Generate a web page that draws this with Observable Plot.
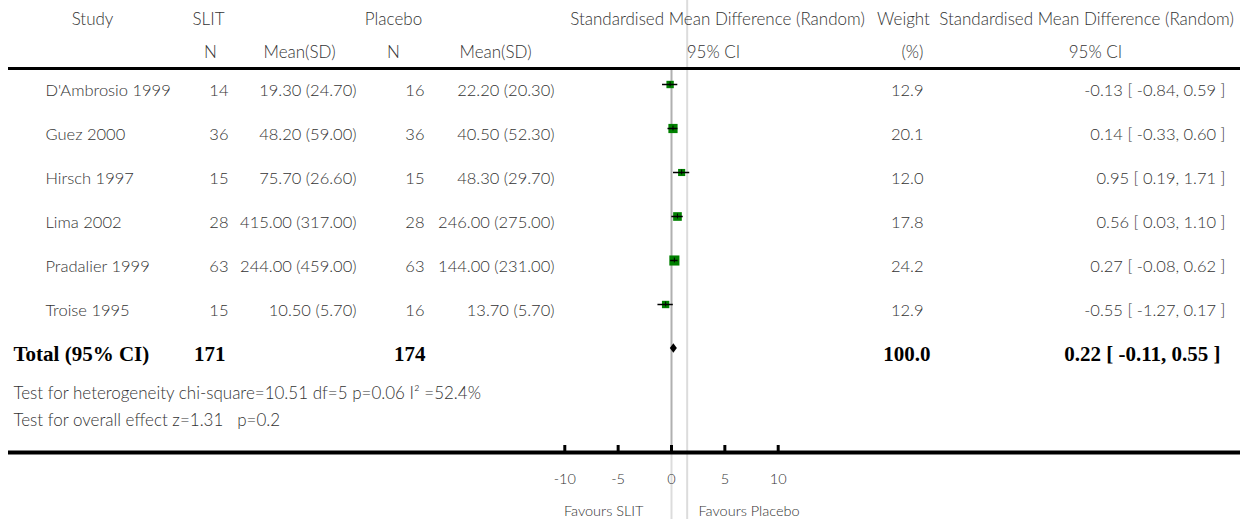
<!DOCTYPE html>
<html><head><meta charset="utf-8">
<script src="https://cdn.jsdelivr.net/npm/d3@7"></script>
<script src="https://cdn.jsdelivr.net/npm/@observablehq/plot@0.6"></script>
<style>body{margin:0;background:#fff}</style>
</head><body><div id="chart"></div>
<script>
// ---- data ----
const studies = ["D'Ambrosio 1999","Guez 2000","Hirsch 1997","Lima 2002","Pradalier 1999","Troise 1995"];
const slitN = [14,36,15,28,63,15];
const slitMeanSD = ["19.30 (24.70)","48.20 (59.00)","75.70 (26.60)","415.00 (317.00)","244.00 (459.00)","10.50 (5.70)"];
const placeboN = [16,36,15,28,63,16];
const placeboMeanSD = ["22.20 (20.30)","40.50 (52.30)","48.30 (29.70)","246.00 (275.00)","144.00 (231.00)","13.70 (5.70)"];
const smd = [-0.13,0.14,0.95,0.56,0.27,-0.55];
const ciLow = [-0.84,-0.33,0.19,0.03,-0.08,-1.27];
const ciHigh = [0.59,0.60,1.71,1.10,0.62,0.17];
const weights = [12.9,20.1,12.0,17.8,24.2,12.9];
const totalLabel = "Total (95% CI)";
const totalSlitN = 171, totalPlaceboN = 174, totalWeight = 100.0;
const totalSmd = 0.22, totalLow = -0.11, totalHigh = 0.55;
const heterogeneityText = "Test for heterogeneity chi-square=10.51 df=5 p=0.06 I\u00B2 =52.4%";
const overallText = "Test for overall effect z=1.31   p=0.2";
const headerLine1 = ["Study","SLIT","Placebo","Standardised Mean Difference (Random)","Weight","Standardised Mean Difference (Random)"];
const headerLine2 = ["N","Mean(SD)","N","Mean(SD)","95% CI","(%)","95% CI"];
const xTicks = [-10,-5,0,5,10];
const favoursLeft = "Favours SLIT", favoursRight = "Favours Placebo";
const dividerValue = 1.47;

// ---- layout ----
const W = 1252, H = 519, ML = 8, MR = 12, MB = 67;
const header1X = [92,208,393,717,903,1086];
const header2X = [210,299,393,495,713,912,1095];
const headerRuleRow = -0.3636, axisRow = 8.3636, totalRow = 6;
const F = "Lato, 'Noto Sans', sans-serif";
const SERIF = "'Liberation Serif', 'DejaVu Serif', serif";
const TXT = "#333";
const FS = 17, RFS = 16.5;

const rows = studies.map((s,i)=>({row:i, study:s, slitN:slitN[i], slitMeanSD:slitMeanSD[i],
  placeboN:placeboN[i], placeboMeanSD:placeboMeanSD[i], smd:smd[i], lo:ciLow[i], hi:ciHigh[i], w:weights[i],
  ci: `${smd[i].toFixed(2)} [ ${ciLow[i].toFixed(2)}, ${ciHigh[i].toFixed(2)} ]`}));
const diamond = [
  {y: totalRow-0.11, x1: totalSmd, x2: totalSmd},
  {y: totalRow, x1: totalLow, x2: totalHigh},
  {y: totalRow+0.11, x1: totalSmd, x2: totalSmd}
];

const base = {fontFamily: F, fontSize: FS, fill: TXT, fontWeight: 300, lineAnchor: "middle"};
const col = (field, x, anchor) => Plot.text(rows, {...base, fontSize: RFS, y: "row", text: field, frameAnchor: "left", dx: x-ML, dy: 6, textAnchor: anchor});
const tot = (t, x, anchor) => Plot.text([t], {fontFamily: SERIF, fontWeight: "bold", fontSize: 21, fill: "#000", lineAnchor: "middle",
  y: () => totalRow, text: d => d, frameAnchor: "left", dx: x-ML, dy: 6, textAnchor: anchor});
const hdr = (t, x, dy) => Plot.text([t], {...base, text: d => d, frameAnchor: "top-left", dx: x-ML, dy, textAnchor: "middle"});

const plot = Plot.plot({
  width: W, height: H, marginLeft: ML, marginRight: MR, marginTop: 0, marginBottom: MB,
  style: {fontFamily: F, background: "#fff"},
  x: {domain: [-10,10], range: [564.3,777.7]},
  y: {domain: [0,6], range: [84,348], axis: null},
  r: {type: "sqrt", domain: [0, d3.max(weights)], range: [0, 5.7]},
  marks: [
    Plot.ruleX([dividerValue], {stroke: "#dcdcdc", strokeWidth: 2, insetBottom: -MB}),
    Plot.ruleX([0], {stroke: "#b0b0b0", strokeWidth: 2, insetTop: 68}),
    Plot.ruleX([0], {stroke: "#dcdcdc", strokeWidth: 2, insetTop: 454, insetBottom: -MB}),
    Plot.ruleY([headerRuleRow], {stroke: "#000", strokeWidth: 3}),
    Plot.ruleY([axisRow], {stroke: "#000", strokeWidth: 4}),
    Plot.ruleX(xTicks, {stroke: "#000", strokeWidth: 3, insetTop: 445}),
    Plot.axisX({ticks: xTicks, tickFormat: d => String(d), tickSize: 0, tickPadding: 21, fontSize: 14.5, fill: TXT, fontWeight: 300, label: null}),
    Plot.text([favoursLeft], {...base, fontSize: 14.5, text: d => d, frameAnchor: "top-left", dx: 643-ML, dy: 511, textAnchor: "end"}),
    Plot.text([favoursRight], {...base, fontSize: 14.5, text: d => d, frameAnchor: "top-left", dx: 698-ML, dy: 511, textAnchor: "start"}),
    ...headerLine1.map((t,i) => hdr(t, header1X[i], 19)),
    ...headerLine2.map((t,i) => hdr(t, header2X[i], 52)),
    Plot.dot(rows, {x: "smd", y: "row", r: "w", symbol: "square", fill: "#008000"}),
    Plot.ruleY(rows, {y: "row", x1: "lo", x2: "hi", stroke: "#000", strokeWidth: 1.5}),
    Plot.ruleX(rows, {x: "smd", y1: d => d.row-0.055, y2: d => d.row+0.055, stroke: "#000", strokeWidth: 1}),
    Plot.areaX(diamond, {y: "y", x1: "x1", x2: "x2", fill: "#000"}),
    col("study", 45, "start"),
    col("slitN", 228, "end"),
    col("slitMeanSD", 356, "end"),
    col("placeboN", 424, "end"),
    col("placeboMeanSD", 554, "end"),
    col(d => d.w.toFixed(1), 923, "end"),
    col("ci", 1225, "end"),
    tot(totalLabel, 13, "start"),
    tot(String(totalSlitN), 225, "end"),
    tot(String(totalPlaceboN), 425, "end"),
    tot(totalWeight.toFixed(1), 930, "end"),
    tot(`${totalSmd.toFixed(2)} [ ${totalLow.toFixed(2)}, ${totalHigh.toFixed(2)} ]`, 1220, "end"),
    Plot.text([heterogeneityText], {...base, text: d => d, frameAnchor: "top-left", dx: 13-ML, dy: 393, textAnchor: "start"}),
    Plot.text([overallText], {...base, text: d => d, frameAnchor: "top-left", dx: 13-ML, dy: 420, textAnchor: "start"})
  ]
});
document.getElementById("chart").appendChild(plot);
</script>
</body></html>
